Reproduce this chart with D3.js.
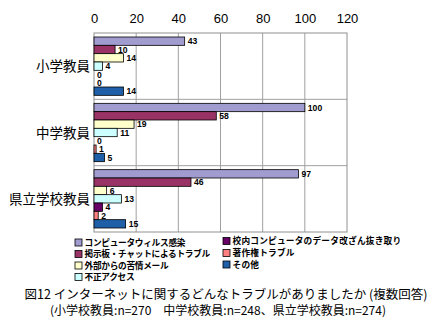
<!DOCTYPE html>
<html><head><meta charset="utf-8">
<script src="https://cdn.jsdelivr.net/npm/d3@7"></script>
<style>body{margin:0;background:#fff}svg{display:block}</style>
</head><body>
<svg id="c" width="447" height="322"></svg>
<script>
const groups = ["小学教員", "中学教員", "県立学校教員"];
const series = ["コンピュータウィルス感染", "掲示板・チャットによるトラブル", "外部からの苦情メール", "不正アクセス", "校内コンピュータのデータ改ざん抜き取り", "著作権トラブル", "その他"];
const colors = ["#a09cd0", "#993366", "#ffffcc", "#ccffff", "#660066", "#ff8080", "#1f5fa8"];
const values = [
  [43, 10, 14, 4, 0, 0, 14],
  [100, 58, 19, 11, 0, 1, 5],
  [97, 46, 6, 13, 4, 2, 15]
];
const ticks = [0, 20, 40, 60, 80, 100, 120];
const titleLines = ["図12 インターネットに関するどんなトラブルがありましたか (複数回答)", "(小学校教員:n=270　中学校教員:n=248、県立学校教員:n=274)"];

const svg = d3.select("#c");
const F = "'Noto Sans CJK JP', 'Liberation Sans', sans-serif";
const L = 94, R = 347, T = 33, B = 232;
const x = d3.scaleLinear().domain([0, 120]).range([L, R]);
const y = d3.scaleBand().domain(groups).range([T, B]);
const yi = d3.scaleBand().domain(d3.range(series.length)).range([4, y.bandwidth() - 4]);

// gridlines
svg.append("g").selectAll("line").data(ticks.slice(1, -1)).join("line")
  .attr("x1", d => x(d)).attr("x2", d => x(d)).attr("y1", T).attr("y2", B)
  .attr("stroke", "#a0a0a0").attr("stroke-width", 1);
// group separators
svg.append("g").selectAll("line").data(groups.slice(1)).join("line")
  .attr("x1", L).attr("x2", R).attr("y1", d => y(d)).attr("y2", d => y(d))
  .attr("stroke", "#a0a0a0");
svg.append("rect").attr("x", L).attr("y", T).attr("width", R - L).attr("height", B - T)
  .attr("fill", "none").attr("stroke", "#909090");

// axis
const ax = svg.append("g").attr("transform", `translate(0,${T - 4})`)
  .call(d3.axisTop(x).tickValues(ticks).tickSize(0).tickPadding(6));
ax.select(".domain").remove();
ax.selectAll("text").attr("font-family", "'Liberation Sans', Arial, sans-serif").attr("font-size", 13).attr("fill", "#000");

// bars
groups.forEach((g, gi) => {
  const gg = svg.append("g").attr("transform", `translate(0,${y(g)})`);
  gg.selectAll("rect").data(values[gi]).join("rect")
    .attr("x", x(0)).attr("y", (d, i) => yi(i))
    .attr("width", d => x(d) - x(0)).attr("height", yi.bandwidth())
    .attr("fill", (d, i) => colors[i]).attr("stroke", "#000").attr("stroke-width", 0.8);
  gg.selectAll("text").data(values[gi]).join("text")
    .attr("x", d => x(d) + 3).attr("y", (d, i) => yi(i) + yi.bandwidth() / 2 + 3.2)
    .attr("font-family", "'Liberation Sans', Arial, sans-serif").attr("font-size", 8.6).attr("font-weight", "bold")
    .text(d => d);
  svg.append("text").attr("x", L - 4).attr("y", y(g) + y.bandwidth() / 2 + 5)
    .attr("text-anchor", "end").attr("font-family", F).attr("font-size", 13.5).text(g);
});

// legend
const legPos = [[75, 242.5], [75, 254], [75, 265.5], [75, 277], [223, 241], [223, 253], [223, 264.5]];
series.forEach((s, i) => {
  const [lx, ly] = legPos[i];
  svg.append("rect").attr("x", lx).attr("y", ly - 3.5).attr("width", 7).attr("height", 7)
    .attr("fill", colors[i]).attr("stroke", "#000").attr("stroke-width", 0.8);
  svg.append("text").attr("x", lx + 9.5).attr("y", ly + 3.3).attr("font-family", F)
    .attr("font-size", 8.7).attr("font-weight", "bold").attr("letter-spacing", i < 4 ? -0.3 : 0.2).text(s);
});

// title
svg.append("text").attr("x", 226).attr("y", 299).attr("text-anchor", "middle")
  .attr("font-family", F).attr("font-size", 12.5).text(titleLines[0]);
svg.append("text").attr("x", 218).attr("y", 314.5).attr("text-anchor", "middle")
  .attr("font-family", F).attr("font-size", 12).text(titleLines[1]);
</script>
</body></html>
